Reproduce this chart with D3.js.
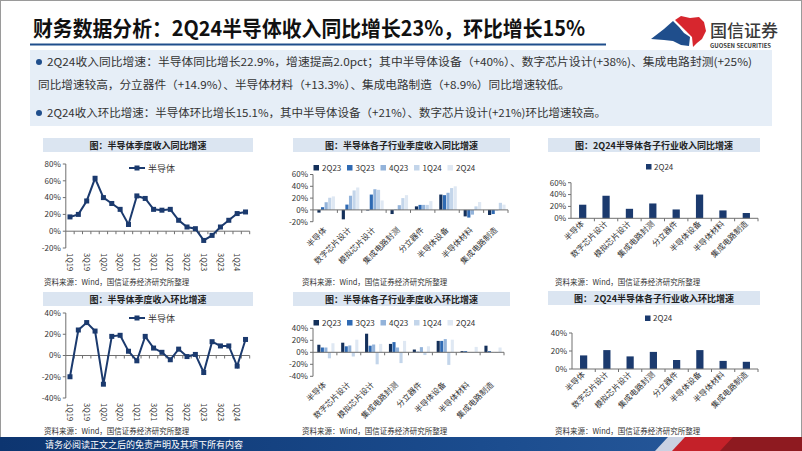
<!DOCTYPE html>
<html><head><meta charset="utf-8">
<script src="https://cdn.jsdelivr.net/npm/d3@7"></script>
<style>
body{margin:0;background:#fff}
svg{display:block}
text{font-family:"Noto Sans CJK SC","Noto Sans",sans-serif}
</style>
</head><body>
<svg id="c" width="802" height="451"></svg>
<script>
// ---------------- DATA ----------------
const quarters = ["1Q19","2Q19","3Q19","4Q19","1Q20","2Q20","3Q20","4Q20","1Q21","2Q21","3Q21","4Q21","1Q22","2Q22","3Q22","4Q22","1Q23","2Q23","3Q23","4Q23","1Q24","2Q24"];
const yoyTotal = [17,20,36,63,40,33,26,8,42,39,26,25,26,13,5,3,-11,-5,5,13,21,22.9];
const qoqTotal = [-20,24,31,23,-27,18,19,4,-5,18,7,3,-4,6,-1,1,-16,13,9,9,-10,15.1];
const yoyLineTicks = [-20,0,20,40,60,80];
const qoqLineTicks = [-40,-20,0,20,40];
const subIndustries = ["半导体","数字芯片设计","模拟芯片设计","集成电路封测","分立器件","半导体设备","半导体材料","集成电路制造"];
const barSeries = ["2Q23","3Q23","4Q23","1Q24","2Q24"];
const yoy2Q23 = [-4.6,-16,-1,-7,6,26,-11,-8.6];
const yoy3Q23 = [4.6,9,26,0.5,8.5,25,-13,-7];
const yoy4Q23 = [13,24,35,8,8.5,29,-8,-1];
const yoy1Q24 = [20.6,33,34,20,8.5,37,6,12];
const yoy2Q24 = [22.9,38,16,25,14.9,40,13.3,8.9];
const qoq2Q23 = [12.6,16,31,14,4.6,19,2,11];
const qoq3Q23 = [8,10,11,17,1,19,2,2];
const qoq4Q23 = [8,11.4,13,8,8.6,22,0.5,0.3];
const qoq1Q24 = [-10,-7,-20,-18,-4.6,-21,-1,-1];
const qoq2Q24 = [15.1,21,14,19,10,21,9,8];
const yoyBarTicks = [-20,0,20,40,60];
const qoqBarTicks = [-40,-20,0,20,40];
const yoySingleTicks = [0,20,40,60];
const qoqSingleTicks = [0,20,40];

const titleText = "财务数据分析：2Q24半导体收入同比增长23%，环比增长15%";
const bulletLines = [
  "2Q24收入同比增速：半导体同比增长22.9%，增速提高2.0pct；其中半导体设备（+40%）、数字芯片设计(+38%)、集成电路封测(+25%)",
  "同比增速较高，分立器件（+14.9%）、半导体材料（+13.3%）、集成电路制造（+8.9%）同比增速较低。",
  "2Q24收入环比增速：半导体环比增长15.1%，其中半导体设备（+21%）、数字芯片设计(+21%)环比增速较高。"
];
const panelTitles = ["图：半导体季度收入同比增速","图：半导体各子行业季度收入同比增速","图：2Q24半导体各子行业收入同比增速",
                     "图：半导体季度收入环比增速","图：半导体各子行业季度收入环比增速","图： 2Q24半导体各子行业收入环比增速"];
const sourceText = "资料来源：Wind，国信证券经济研究所整理";
const footerText = "请务必阅读正文之后的免责声明及其项下所有内容";

// ---------------- STYLE ----------------
const navy = "#1b3a6e";
const seriesColors = ["#14305a","#2f6ab3","#93b3da","#c3d5ea","#dfe8f3"];
const axisCol = "#707070";
const txtCol = "#333";

const svg = d3.select("#c");

// slide border
svg.append("rect").attr("x",0.5).attr("y",0.5).attr("width",801).attr("height",450)
  .attr("fill","#fff").attr("stroke","#9a9a9a");

// ---------------- HEADER ----------------
svg.append("text").attr("x",33).attr("y",36).attr("font-size",21).attr("font-weight",700)
  .attr("fill","#111").attr("textLength",552).attr("lengthAdjust","spacingAndGlyphs").text(titleText);
svg.append("line").attr("x1",30).attr("x2",606).attr("y1",44.5).attr("y2",44.5)
  .attr("stroke","#1f4e8c").attr("stroke-width",2);

// logo
const logo = svg.append("g");
logo.append("path").attr("d","M651,39 L664,29 L673,21 L679,27 L684,33 L690,37 L689,46 L681,45 L673,41 L664,40 Z").attr("fill","#1f4e8c");
logo.append("path").attr("d","M675,20 L681,16 L690,18 L699,17 L704,22 L706,31 L702,39 L697,43 L693,47 L692,37 L686,31 L681,26 Z").attr("fill","#d7262e");
logo.append("text").attr("x",710).attr("y",37).attr("font-size",17).attr("fill","#3a3a3a").attr("font-weight",500).text("国信证券");
logo.append("text").attr("x",710).attr("y",47.5).attr("font-size",6.2).attr("font-weight",700).attr("fill","#3a3a3a")
  .attr("textLength",61).attr("lengthAdjust","spacingAndGlyphs").text("GUOSEN SECURITIES");

// bullet box
svg.append("rect").attr("x",30).attr("y",50).attr("width",742).attr("height",76).attr("fill","#e6eef7");
const lineSpec = [{x:47,y:66,w:705,b:true},{x:38,y:89,w:532,b:false},{x:47,y:117,w:559,b:true}];
lineSpec.forEach((s,i)=>{
  if(s.b) svg.append("circle").attr("cx",39).attr("cy",s.y-4).attr("r",3).attr("fill","#1f4e8c");
  svg.append("text").attr("x",s.x).attr("y",s.y).attr("font-size",11).attr("fill",txtCol)
    .attr("textLength",s.w).attr("lengthAdjust","spacingAndGlyphs").text(bulletLines[i]);
});

// ---------------- PANEL TITLES / SOURCES ----------------
const bands = [
  {x:43,y:138,w:210},{x:293,y:138,w:217},{x:548,y:138,w:212},
  {x:43,y:292,w:210},{x:293,y:292,w:217},{x:548,y:291,w:212}
];
bands.forEach((b,i)=>{
  svg.append("rect").attr("x",b.x).attr("y",b.y).attr("width",b.w).attr("height",14).attr("fill","#dbe5f1");
  svg.append("text").attr("x",b.x+b.w/2).attr("y",b.y+10.5).attr("text-anchor","middle")
    .attr("font-size",9).attr("font-weight",700).attr("fill","#222").text(panelTitles[i]);
});
[[44,285],[302,285],[555,285],[44,434],[302,434],[555,434]].forEach(p=>{
  svg.append("text").attr("x",p[0]).attr("y",p[1]).attr("font-size",7.5).attr("fill",txtCol).text(sourceText);
});

// ---------------- HELPERS ----------------
function yAxis(g, y, ticks, x){
  g.append("line").attr("x1",x).attr("x2",x).attr("y1",y(d3.min(ticks))).attr("y2",y(d3.max(ticks))).attr("stroke",axisCol);
  ticks.forEach(t=>{
    g.append("line").attr("x1",x-3).attr("x2",x).attr("y1",y(t)).attr("y2",y(t)).attr("stroke",axisCol);
    g.append("text").attr("x",x-5).attr("y",y(t)+2.8).attr("text-anchor","end").attr("font-size",8).attr("fill",txtCol).text(t+"%");
  });
}

function lineChart(cfg){
  const g = svg.append("g");
  const x = d3.scaleBand().domain(quarters).range([cfg.x0,cfg.x1]);
  const y = d3.scaleLinear().domain(d3.extent(cfg.ticks)).range([cfg.yb,cfg.yt]);
  yAxis(g,y,cfg.ticks,cfg.x0);
  g.append("line").attr("x1",cfg.x0).attr("x2",cfg.x1).attr("y1",y(0)).attr("y2",y(0)).attr("stroke",axisCol);
  quarters.forEach((q,i)=>{
    const bx = x(q)+x.bandwidth();
    g.append("line").attr("x1",bx).attr("x2",bx).attr("y1",y(0)).attr("y2",y(0)+3).attr("stroke",axisCol);
    if(i%2===0){
      g.append("text").attr("transform",`translate(${x(q)+x.bandwidth()/2-2.8},${cfg.yb+5}) rotate(90)`)
        .attr("font-size",7.5).attr("fill",txtCol).text(q);
    }
  });
  const line = d3.line().x((d,i)=>x(quarters[i])+x.bandwidth()/2).y(d=>y(d));
  g.append("path").datum(cfg.values).attr("d",line).attr("fill","none").attr("stroke",navy).attr("stroke-width",2);
  g.selectAll(".m").data(cfg.values).enter().append("rect")
    .attr("x",(d,i)=>x(quarters[i])+x.bandwidth()/2-2.5).attr("y",d=>y(d)-2.5)
    .attr("width",5).attr("height",5).attr("fill",navy);
  // legend
  g.append("line").attr("x1",129).attr("x2",145).attr("y1",cfg.ly).attr("y2",cfg.ly).attr("stroke",navy).attr("stroke-width",2);
  g.append("rect").attr("x",134.5).attr("y",cfg.ly-2.5).attr("width",5).attr("height",5).attr("fill",navy);
  g.append("text").attr("x",148).attr("y",cfg.ly+3.5).attr("font-size",9).attr("fill",txtCol).text("半导体");
}

function catLabels(g, x, yLab){
  subIndustries.forEach(c=>{
    g.append("text").attr("transform",`translate(${x(c)+x.bandwidth()/2+2},${yLab}) rotate(-45)`)
      .attr("text-anchor","end").attr("font-size",8).attr("fill",txtCol).text(c);
  });
}

function groupedBar(cfg){
  const g = svg.append("g");
  const x0 = d3.scaleBand().domain(subIndustries).range([cfg.x0,cfg.x1]);
  const bw = x0.bandwidth();
  const x1 = d3.scaleBand().domain(barSeries).range([bw*0.18,bw*0.9]).paddingInner(0.12);
  const y = d3.scaleLinear().domain(d3.extent(cfg.ticks)).range([cfg.yb,cfg.yt]);
  barSeries.forEach((s,si)=>{
    g.selectAll(null).data(cfg.series[si]).enter().append("rect")
      .attr("x",(d,i)=>x0(subIndustries[i])+x1(s)).attr("width",x1.bandwidth())
      .attr("y",d=>y(Math.max(0,d))).attr("height",d=>Math.abs(y(d)-y(0)))
      .attr("fill",seriesColors[si]);
  });
  yAxis(g,y,cfg.ticks,cfg.x0);
  g.append("line").attr("x1",cfg.x0).attr("x2",cfg.x1).attr("y1",y(0)).attr("y2",y(0)).attr("stroke",axisCol);
  subIndustries.forEach(c=>{
    const bx = x0(c)+bw;
    g.append("line").attr("x1",bx).attr("x2",bx).attr("y1",y(0)).attr("y2",y(0)+3).attr("stroke",axisCol);
  });
  catLabels(g,x0,cfg.yb+9);
  // legend
  barSeries.forEach((s,i)=>{
    const lx = 316 + i*33.5;
    g.append("rect").attr("x",lx-2.5).attr("y",cfg.ly-3).attr("width",5.5).attr("height",5.5).attr("fill",seriesColors[i]);
    g.append("text").attr("x",lx+6).attr("y",cfg.ly+2.8).attr("font-size",8).attr("fill",txtCol).text(s);
  });
}

function singleBar(cfg){
  const g = svg.append("g");
  const x = d3.scaleBand().domain(subIndustries).range([cfg.x0,cfg.x1]);
  const y = d3.scaleLinear().domain(d3.extent(cfg.ticks)).range([cfg.yb,cfg.yt]);
  const w = x.bandwidth()*0.31;
  g.selectAll(null).data(cfg.values).enter().append("rect")
    .attr("x",(d,i)=>x(subIndustries[i])+x.bandwidth()/2-w/2).attr("width",w)
    .attr("y",d=>y(d)).attr("height",d=>y(0)-y(d)).attr("fill",navy);
  yAxis(g,y,cfg.ticks,cfg.x0);
  g.append("line").attr("x1",cfg.x0).attr("x2",cfg.x1).attr("y1",y(0)).attr("y2",y(0)).attr("stroke",axisCol);
  subIndustries.forEach(c=>{
    const bx = x(c)+x.bandwidth();
    g.append("line").attr("x1",bx).attr("x2",bx).attr("y1",y(0)).attr("y2",y(0)+3).attr("stroke",axisCol);
  });
  catLabels(g,x,cfg.yb+6);
  g.append("rect").attr("x",cfg.lx).attr("y",cfg.ly-3).attr("width",5.5).attr("height",5.5).attr("fill",navy);
  g.append("text").attr("x",cfg.lx+8).attr("y",cfg.ly+2.8).attr("font-size",8).attr("fill",txtCol).text("2Q24");
}

// ---------------- CHARTS ----------------
lineChart({x0:65.8,x1:249.7,yt:164,yb:248,ticks:yoyLineTicks,values:yoyTotal,ly:168});
lineChart({x0:65.8,x1:249.7,yt:313,yb:398,ticks:qoqLineTicks,values:qoqTotal,ly:318});
groupedBar({x0:313,x1:508,yt:174.5,yb:221.7,ticks:yoyBarTicks,series:[yoy2Q23,yoy3Q23,yoy4Q23,yoy1Q24,yoy2Q24],ly:168});
groupedBar({x0:313,x1:504,yt:328.3,yb:376.3,ticks:qoqBarTicks,series:[qoq2Q23,qoq3Q23,qoq4Q23,qoq1Q24,qoq2Q24],ly:323});
singleBar({x0:571,x1:758,yt:182.7,yb:218.3,ticks:yoySingleTicks,values:yoy2Q24,lx:646,ly:167});
singleBar({x0:572,x1:758,yt:333,yb:369,ticks:qoqSingleTicks,values:qoq2Q24,lx:645,ly:318.5});

// ---------------- FOOTER ----------------
const defs = svg.append("defs");
const grad = defs.append("linearGradient").attr("id","fg").attr("x1","0").attr("x2","1");
grad.append("stop").attr("offset","0").attr("stop-color","#0d3570");
grad.append("stop").attr("offset","0.6").attr("stop-color","#1b4c8e");
grad.append("stop").attr("offset","1").attr("stop-color","#2a5c9e");
svg.append("rect").attr("x",0).attr("y",437).attr("width",802).attr("height",14).attr("fill","url(#fg)");
svg.append("path").attr("d","M655,451 L668,437 L700,437 L687,451 Z").attr("fill","#e8e8ee").attr("opacity",0.85);
svg.append("path").attr("d","M672,451 L685,437 L802,437 L802,451 Z").attr("fill","#c42129");
svg.append("path").attr("d","M720,451 L733,437 L802,437 L802,451 Z").attr("fill","#8e1a20");
svg.append("text").attr("x",45).attr("y",447.5).attr("font-size",9).attr("fill","#fff").text(footerText);
</script>
</body></html>
